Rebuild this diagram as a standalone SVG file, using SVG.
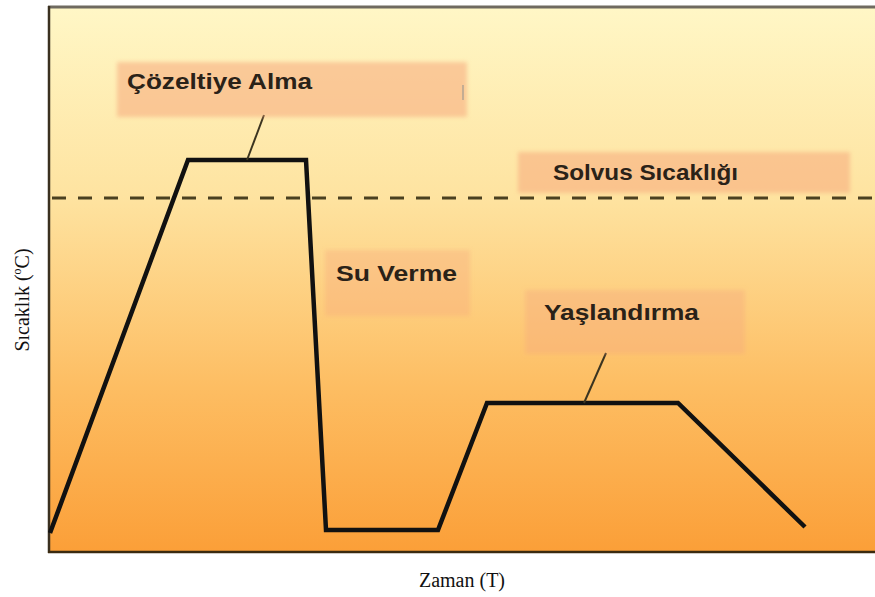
<svg xmlns="http://www.w3.org/2000/svg" width="875" height="597" viewBox="0 0 875 597">
<defs>
<linearGradient id="bg" x1="0" y1="0" x2="0" y2="1">
<stop offset="0" stop-color="#fff7c6"/>
<stop offset="0.35" stop-color="#fee3a0"/>
<stop offset="0.7" stop-color="#fdbd62"/>
<stop offset="1" stop-color="#fb9f38"/>
</linearGradient>
<filter id="soft" x="-10%" y="-20%" width="120%" height="140%">
<feGaussianBlur stdDeviation="2"/>
</filter>
<style>
.box{fill:#f6a77c;fill-opacity:0.55;filter:url(#soft)}
.lbl{font-family:"Liberation Sans","Open Sans",sans-serif;font-weight:bold;font-size:22px;fill:#2a2218}
.axis{font-family:"Liberation Serif","Times New Roman",serif;font-size:20px;fill:#111}
.curve{fill:none;stroke:#111;stroke-width:4.5;stroke-linejoin:miter}
.leader{fill:none;stroke:#3b3420;stroke-width:2}
.dash{fill:none;stroke:#4a4020;stroke-width:3;stroke-dasharray:14 12}
</style>
</defs>
<rect width="875" height="597" fill="#ffffff"/>
<g id="plot">
<rect x="49" y="7" width="830" height="545" fill="url(#bg)"/>
<line x1="48" y1="7" x2="875" y2="7" stroke="#6f6a60" stroke-width="3"/>
<line x1="49" y1="6" x2="49" y2="553" stroke="#3a3020" stroke-width="2.5"/>
<line x1="48" y1="552" x2="875" y2="552" stroke="#3a2a10" stroke-width="2.5"/>
</g>
<g id="solvus-line">
<line class="dash" x1="52" y1="198" x2="875" y2="198"/>
</g>
<g id="connectors">
<polyline class="curve" points="50,533 188,160 306,160 326,530 438,530 487,403 678,403 805,527"/>
<line class="leader" x1="247" y1="160" x2="264" y2="115"/>
<line class="leader" x1="584" y1="403" x2="606" y2="353"/>
</g>
<g id="cozeltiye">
<rect class="box" x="117" y="62" width="350" height="55"/>
<line x1="463" y1="85" x2="463" y2="100" stroke="#a09a90" stroke-width="1.2"/>
<text class="lbl" x="127" y="89" textLength="185" lengthAdjust="spacingAndGlyphs">Çözeltiye Alma</text>
</g>
<g id="solvus">
<rect class="box" x="518" y="152" width="332" height="41"/>
<text class="lbl" x="553" y="180" textLength="185" lengthAdjust="spacingAndGlyphs">Solvus Sıcaklığı</text>
</g>
<g id="suverme">
<rect class="box" x="325" y="250" width="145" height="66" style="fill-opacity:0.35"/>
<text class="lbl" x="336" y="281" textLength="121" lengthAdjust="spacingAndGlyphs">Su Verme</text>
</g>
<g id="yaslandirma">
<rect class="box" x="525" y="290" width="220" height="64" style="fill-opacity:0.4"/>
<text class="lbl" x="544" y="320" textLength="155" lengthAdjust="spacingAndGlyphs">Yaşlandırma</text>
</g>
<g id="axes">
<text class="axis" x="462" y="587" text-anchor="middle">Zaman (T)</text>
<text class="axis" transform="translate(29,300) rotate(-90)" text-anchor="middle">Sıcaklık (<tspan font-size="12" dy="-8">o</tspan><tspan dy="8">C)</tspan></text>
</g>
</svg>
